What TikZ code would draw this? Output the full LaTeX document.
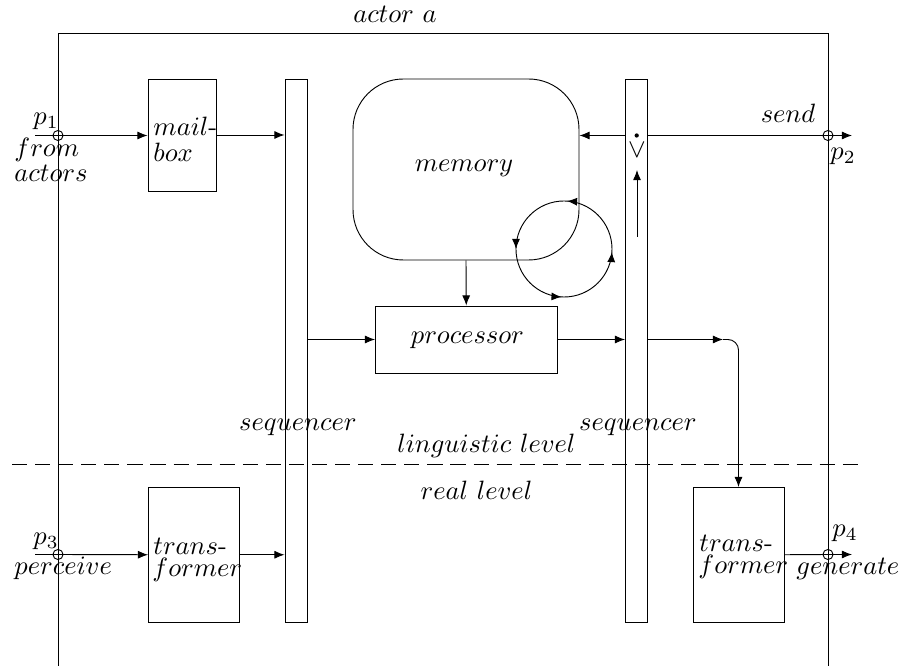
\documentclass[tikz,border=0pt]{standalone}
\usetikzlibrary{arrows.meta,fit,decorations.markings}
\begin{document}
\begin{tikzpicture}[x=0.377pt,y=-0.377pt,
  line width=0.35pt,
  box/.style={draw,inner sep=0pt},
  port/.style={draw,circle,inner sep=0pt,minimum size=3.8pt},
  arr/.style={-{Latex[length=3.8pt,width=3pt]}},
  txt/.style={inner sep=0pt,anchor=base west},
  txtc/.style={inner sep=0pt,anchor=base},
  cycarr/.style={decoration={markings,
     mark=at position 0.24 with {\arrow{Latex[length=3.8pt,width=3pt]}},
     mark=at position 0.5 with {\arrow{Latex[length=3.8pt,width=3pt]}},
     mark=at position 0.742 with {\arrow{Latex[length=3.8pt,width=3pt]}},
     mark=at position 0.99 with {\arrow{Latex[length=3.8pt,width=3pt]}}},
     postaction={decorate}}]
\useasboundingbox (0,0) rectangle (903,666);

% outer actor box (open at bottom)
\coordinate (oBL) at (58,666);
\coordinate (oTL) at (58,33);
\coordinate (oTR) at (828,33);
\coordinate (oBR) at (828,666);
\draw (oBL) -- (oTL) -- (oTR) -- (oBR);
\node[txtc] (actor) at (395,23) {$actor\ a$};

% boxes
\node[box,fit={(148,79)(216.5,191)}] (mail) {};
\node[box,fit={(285,79)(307,622)}] (seqL) {};
\node[box,fit={(625.5,79)(647,622)}] (seqR) {};
\node[box,rounded corners=19pt,fit={(353,79)(579,260)}] (memory) {};
\node[box,fit={(375.5,306)(557,373)}] (proc) {};
\node[box,fit={(148.5,487.5)(239.5,622)}] (transL) {};
\node[box,fit={(693,487.5)(784,622)}] (transR) {};

% texts in boxes
\node[txt] (mailA) at (153,135.5) {$mail$-};
\node[txt] (mailB) at (153,161.5) {$box$};
\node[txtc] (memT) at (464,172) {$memory$};
\node[txtc] (procT) at (467.5,343.5) {$processor$};
\node[txt] (tLA) at (153,555) {$trans$-};
\node[txt] (tLB) at (152,577) {$former$};
\node[txt] (tRA) at (699,552) {$trans$-};
\node[txt] (tRB) at (698,574) {$former$};

% labels
\node[txtc] (seqLT) at (298,430.5) {$sequencer$};
\node[txtc] (seqRT) at (638,430.5) {$sequencer$};
\node[txtc] (lingT) at (486.5,452.5) {$linguistic\ level$};
\node[txtc] (realT) at (476.5,500) {$real\ level$};
\node[txtc] (sendT) at (788,123) {$send$};

% ports
\node[port] (p1) at (58,135.5) {};
\node[port] (p2) at (828,135.5) {};
\node[port] (p3) at (58,554.5) {};
\node[port] (p4) at (828,554.5) {};
\node[txt] (p1T) at (33,124.5) {$p_1$};
\node[txt] (fromT) at (14,156.5) {$from$};
\node[txt] (actorsT) at (14,181.5) {$actors$};
\node[txt] (p2T) at (830,159.5) {$p_2$};
\node[txt] (p3T) at (33,544.5) {$p_3$};
\node[txt] (percT) at (14,575) {$perceive$};
\node[txt] (p4T) at (832,536.5) {$p_4$};
\node[txt] (genT) at (796,575) {$generate$};

% connectors
\coordinate (p1in) at (35,135.5);
\coordinate (p3in) at (35,554.5);
\coordinate (p2out) at (852,135.5);
\coordinate (p4out) at (852,554.5);
\draw[arr] (p1in) -- (p1.center) -- (mail.west |- p1.center);
\draw[arr] (mail.east) -- (seqL.west |- mail.east);
\draw[arr] (seqL.east |- proc.west) -- (proc.west);
\draw[arr] (proc.east) -- (seqR.west |- proc.east);
\draw[arr] (memory.south) -- (proc.north);
\draw[arr] (seqR.west |- p2.center) -- (memory.east |- p2.center);
\draw[arr] (seqR.east |- p2.center) -- (p2.center) -- (p2out);
\draw[arr] (p3in) -- (p3.center) -- (transL.west);
\draw[arr] (transL.east) -- (seqL.west |- transL.east);
\draw[arr] (transR.east) -- (p4.center) -- (p4out);
\coordinate (bend) at (723,339.5);
\draw[arr] (seqR.east |- proc.east) -- (bend);
\draw[arr,rounded corners=4pt] (bend) -| (transR.north);

% inside right sequencer
\fill (636.7,135.5) circle[radius=0.8pt];
\node[inner sep=0pt] (veeT) at (637,150) {$\vee$};
\coordinate (upS) at (637,237);
\coordinate (upE) at (637,170);
\draw[arr] (upS) -- (upE);

% cycle
\coordinate (cycE) at (612,249);
\draw[cycarr] (cycE) arc[start angle=0,end angle=360,radius=18.1pt];

% level separator
\coordinate (dashL) at (12,464);
\coordinate (dashR) at (865,464);
\draw[dash pattern=on 5.7pt off 3pt] (dashL) -- (dashR);
\end{tikzpicture}
\end{document}
